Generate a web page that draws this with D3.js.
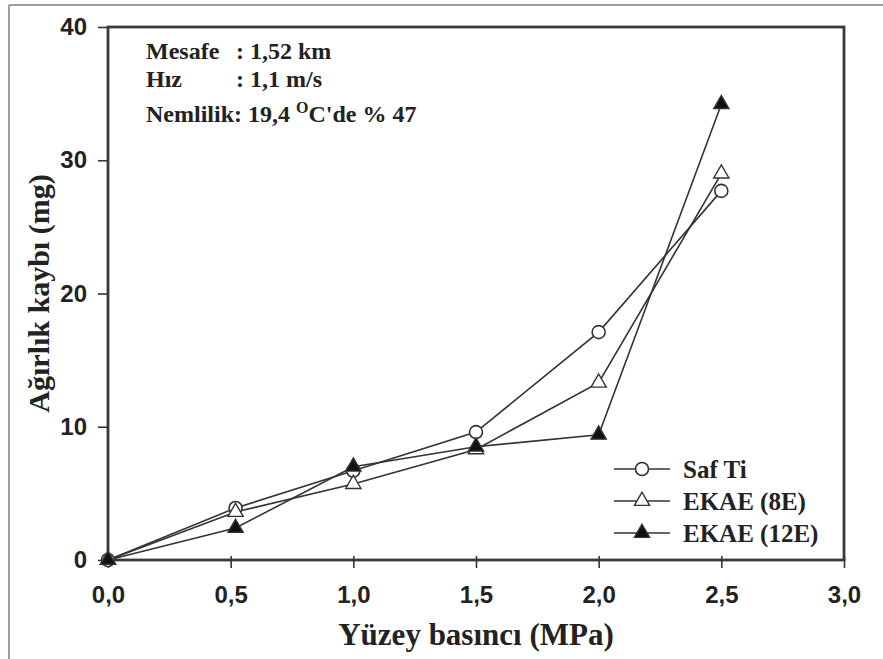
<!DOCTYPE html>
<html>
<head>
<meta charset="utf-8">
<script src="https://cdn.jsdelivr.net/npm/d3@7"></script>
<style>
  body { margin: 0; background: #fff; }
  svg { display: block; }
  .tick text { font-family: "Liberation Sans", Arial, sans-serif; font-weight: bold; font-size: 24px; fill: #222; }
  .serif { font-family: "Liberation Serif", "Times New Roman", serif; font-weight: bold; fill: #222; }
</style>
</head>
<body>
<svg id="chart" width="883" height="659"></svg>
<script>
// data
var basinc = [0, 0.52, 1.0, 1.5, 2.0, 2.5];
var safTi = [0, 3.9, 6.7, 9.6, 17.1, 27.7];
var ekae8 = [0, 3.6, 5.7, 8.3, 13.3, 29.0];
var ekae12 = [0, 2.4, 7.0, 8.5, 9.4, 34.2];
var seriesNames = ["Saf Ti", "EKAE (8E)", "EKAE (12E)"];
var xTicks = [0, 0.5, 1.0, 1.5, 2.0, 2.5, 3.0];
var yTicks = [0, 10, 20, 30, 40];

var svg = d3.select("#chart"),
    margin = { top: 27, right: 39, bottom: 99, left: 108 },
    width = +svg.attr("width") - margin.left - margin.right,
    height = +svg.attr("height") - margin.top - margin.bottom;

// outer frame of the picture
svg.append("line").attr("x1", 9).attr("x2", 883).attr("y1", 5).attr("y2", 5)
    .attr("stroke", "#7a7896").attr("stroke-width", 1.5);
svg.append("line").attr("x1", 9).attr("x2", 9).attr("y1", 5).attr("y2", 659)
    .attr("stroke", "#7a7896").attr("stroke-width", 1.5);

var x = d3.scaleLinear().domain([0, 3]).range([0, width]),
    y = d3.scaleLinear().domain([0, 40]).range([height, 0]);

var g = svg.append("g")
    .attr("transform", "translate(" + margin.left + "," + margin.top + ")");

var fmt = function (d) { return d3.format(".1f")(d).replace(".", ","); };

g.append("g")
    .attr("class", "axis axis--x")
    .attr("transform", "translate(0," + height + ")")
    .call(d3.axisBottom(x).tickValues(xTicks).tickFormat(fmt).tickSize(8).tickPadding(18))
    .call(function (a) { a.select(".domain").remove(); })
    .selectAll(".tick line").attr("stroke", "#333").attr("stroke-width", 1.6).attr("y1", -4);

g.append("g")
    .attr("class", "axis axis--y")
    .call(d3.axisLeft(y).tickValues(yTicks).tickSize(10).tickPadding(11))
    .call(function (a) { a.select(".domain").remove(); })
    .selectAll(".tick line").attr("stroke", "#333").attr("stroke-width", 1.6);

// box around the plot
g.append("rect")
    .attr("x", 0).attr("y", 0).attr("width", width).attr("height", height)
    .attr("fill", "none").attr("stroke", "#3a3a3a").attr("stroke-width", 2.8);

var line = d3.line()
    .x(function (d) { return x(d[0]); })
    .y(function (d) { return y(d[1]); });

var allSeries = [safTi, ekae8, ekae12].map(function (vals, i) {
    return { name: seriesNames[i], pts: basinc.map(function (b, j) { return [b, vals[j]]; }) };
});

g.selectAll(".serie")
    .data(allSeries)
    .enter().append("path")
    .attr("class", "serie")
    .attr("d", function (d) { return line(d.pts); })
    .attr("fill", "none")
    .attr("stroke", "#333")
    .attr("stroke-width", 1.6);

function marker(sel, i) {
    if (i === 0) {
        sel.append("circle").attr("r", 6.5).attr("fill", "#fff").attr("stroke", "#333").attr("stroke-width", 1.6);
    } else {
        sel.append("path")
            .attr("d", d3.symbol().type(d3.symbolTriangle).size(100))
            .attr("fill", i === 2 ? "#111" : "#fff")
            .attr("stroke", "#333").attr("stroke-width", 1.4);
    }
}

allSeries.forEach(function (s, i) {
    g.selectAll(".m" + i)
        .data(s.pts)
        .enter().append("g")
        .attr("class", "m" + i)
        .attr("transform", function (d) { return "translate(" + x(d[0]) + "," + y(d[1]) + ")"; })
        .each(function () { marker(d3.select(this), i); });
});

// annotation
var ann = g.append("g").attr("class", "serif").style("font-size", "24px");
ann.append("text").attr("x", 38).attr("y", 32).text("Mesafe");
ann.append("text").attr("x", 128).attr("y", 32).text(": 1,52 km");
ann.append("text").attr("x", 38).attr("y", 60).text("Hız");
ann.append("text").attr("x", 128).attr("y", 60).text(": 1,1 m/s");
var nem = ann.append("text").attr("x", 38).attr("y", 95);
nem.append("tspan").text("Nemlilik: 19,4 ");
nem.append("tspan").attr("dy", -9).style("font-size", "16px").text("O");
nem.append("tspan").attr("dy", 9).text("C'de % 47");

// legend
var leg = g.append("g").attr("transform", "translate(506,442)");
allSeries.forEach(function (s, i) {
    var row = leg.append("g").attr("transform", "translate(0," + (i * 32) + ")");
    row.append("line").attr("x1", 0).attr("x2", 56).attr("stroke", "#333").attr("stroke-width", 1.6);
    row.append("g").attr("transform", "translate(28,0)").call(function (m) { marker(m, i); });
    row.append("text").attr("class", "serif").attr("x", 69).attr("dy", "0.35em")
        .style("font-size", "25px").text(s.name);
});

// axis titles
svg.append("text").attr("class", "serif")
    .attr("x", margin.left + width / 2).attr("y", 645)
    .attr("text-anchor", "middle").style("font-size", "31px")
    .text("Yüzey basıncı (MPa)");

svg.append("text").attr("class", "serif")
    .attr("transform", "translate(49," + (margin.top + height / 2) + ") rotate(-90)")
    .attr("text-anchor", "middle").style("font-size", "30px")
    .text("Ağırlık kaybı (mg)");
</script>
</body>
</html>
